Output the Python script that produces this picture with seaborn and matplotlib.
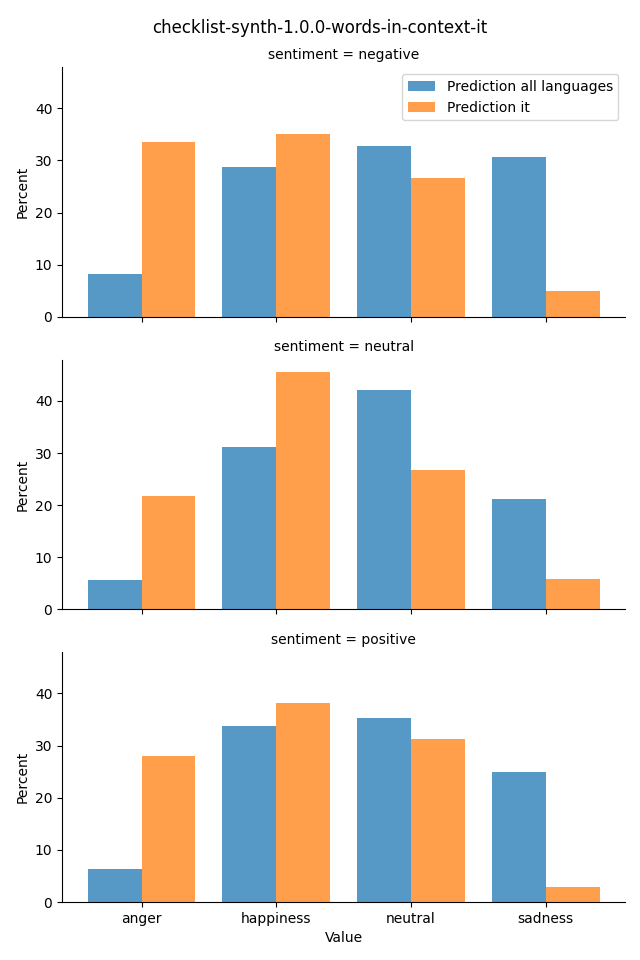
import matplotlib
matplotlib.use("Agg")
import matplotlib.pyplot as plt
import seaborn as sns
import pandas as pd

sentiments = ["negative", "neutral", "positive"]
values = ["anger", "happiness", "neutral", "sadness"]
series = ["Prediction all languages", "Prediction it"]

all_neg = [8.3, 28.8, 32.7, 30.6]
it_neg = [33.6, 35.0, 26.7, 5.0]
all_neu = [5.6, 31.2, 42.1, 21.2]
it_neu = [21.7, 45.6, 26.7, 5.8]
all_pos = [6.3, 33.8, 35.2, 25.0]
it_pos = [28.1, 38.1, 31.3, 2.9]

data = {
    "negative": (all_neg, it_neg),
    "neutral": (all_neu, it_neu),
    "positive": (all_pos, it_pos),
}

rows = []
for s in sentiments:
    a, b = data[s]
    for v, x in zip(values, a):
        rows.append({"sentiment": s, "Value": v, "Percent": x, "hue": series[0]})
    for v, x in zip(values, b):
        rows.append({"sentiment": s, "Value": v, "Percent": x, "hue": series[1]})
df = pd.DataFrame(rows)

plt.rcParams['font.family'] = ['DejaVu Sans']

fig, axes = plt.subplots(3, 1, figsize=(6.4, 9.6), dpi=100, sharex=True, sharey=True)
fig.subplots_adjust(left=0.097, right=0.977, top=0.930, bottom=0.0604, hspace=0.172)

n = len(values)
lo, hi = -0.4, n - 1 + 0.4
m = 0.05 * (hi - lo)

for i, (ax, s) in enumerate(zip(axes, sentiments)):
    sub = df[df["sentiment"] == s]
    sns.barplot(data=sub, x="Value", y="Percent", hue="hue", hue_order=series,
                order=values, palette=["#1f77b4", "#ff7f0e"], alpha=0.75,
                ax=ax, legend=(i == 0), saturation=1, width=0.8, linewidth=0)
    ax.set_title(f"sentiment = {s}", fontsize=10)
    ax.set_ylabel("Percent")
    if i < 2:
        ax.set_xlabel("")
    else:
        ax.set_xlabel("Value")
    sns.despine(ax=ax)

axes[0].set_xlim(lo - m, hi + m)
axes[0].legend(loc="upper right", title=None)
fig.suptitle("checklist-synth-1.0.0-words-in-context-it", fontsize=12)
fig.savefig("out.png", dpi=100)
